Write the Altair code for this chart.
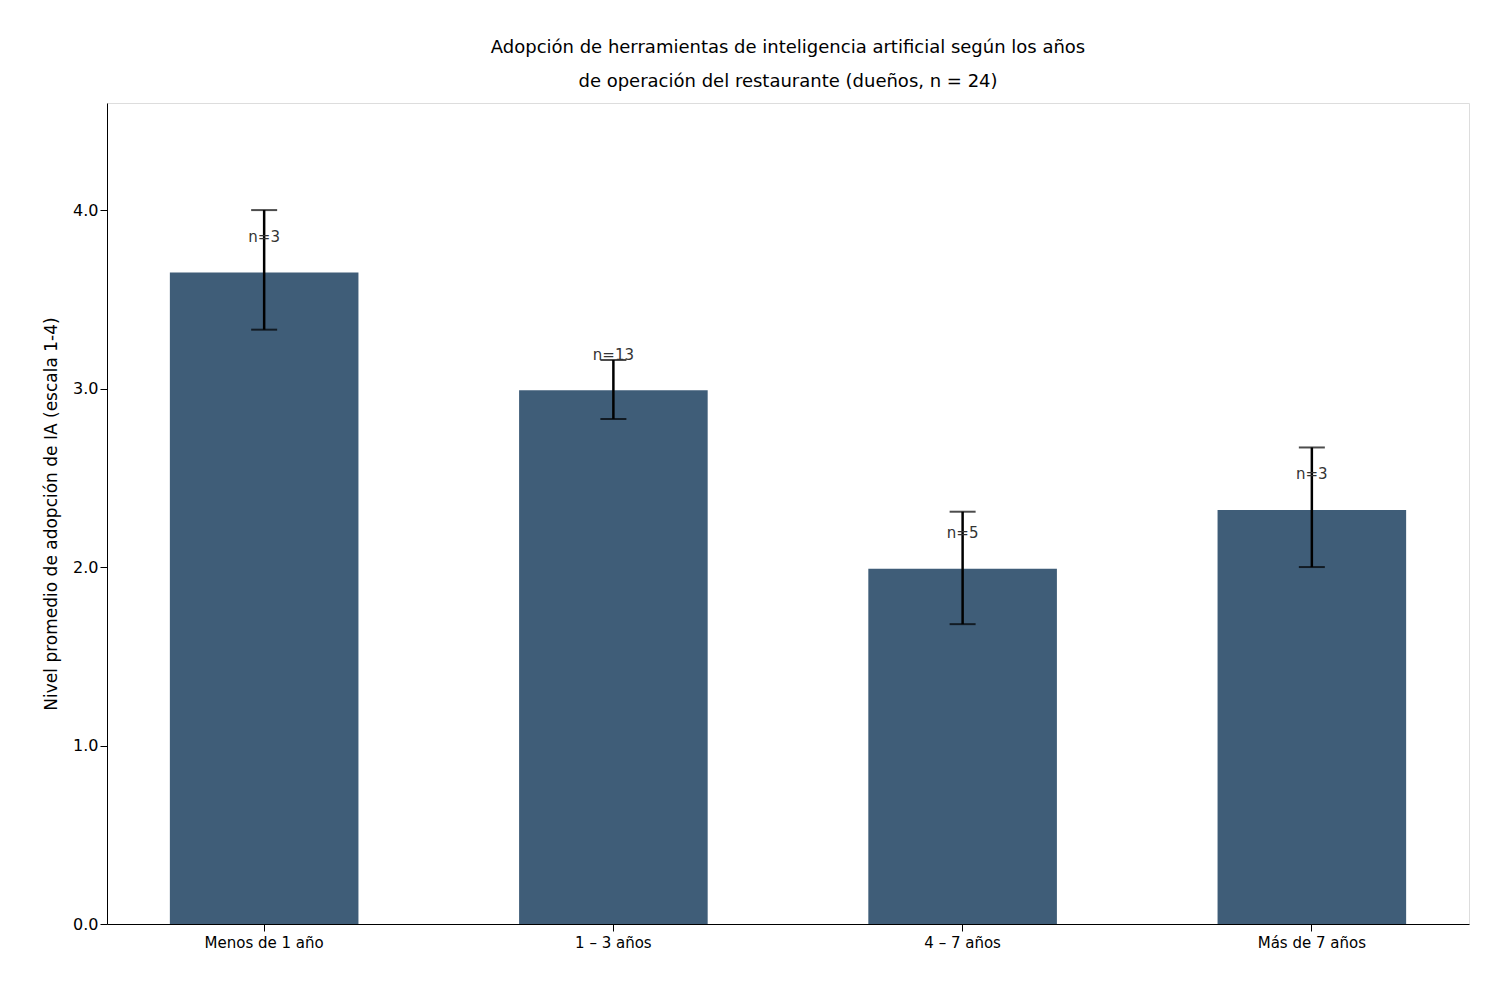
import altair as alt
import pandas as pd

categorias = ["Menos de 1 año", "1 – 3 años", "4 – 7 años", "Más de 7 años"]
medias = [3.65, 2.99, 1.99, 2.32]
err_inf = [3.33, 2.83, 1.68, 2.00]
err_sup = [4.00, 3.16, 2.31, 2.67]
n_vals = [3, 13, 5, 3]

df = pd.DataFrame({
    "cat": categorias, "media": medias, "lo": err_inf, "hi": err_sup,
    "lab": [f"n={n}" for n in n_vals],
    "labpos": [m + 0.2 for m in medias],
})

F = "DejaVu Sans"
x = alt.X("cat:N", sort=categorias, title=None,
          scale=alt.Scale(paddingInner=0.46, paddingOuter=0.18),
          axis=alt.Axis(labelAngle=0, labelFontSize=15, labelFont=F, labelColor="black",
                        tickColor="black", tickSize=7, domainColor="black", labelPadding=4))
yscale = alt.Scale(domain=[0, 4.6], nice=False)

base = alt.Chart(df)
bars = base.mark_bar(color="#3f5d78").encode(
    x=x,
    y=alt.Y("media:Q", scale=yscale, title="Nivel promedio de adopción de IA (escala 1-4)",
            axis=alt.Axis(values=[0, 1, 2, 3, 4], grid=False, labelFontSize=16, labelFont=F,
                          labelColor="black", titleFont=F, titleFontSize=17, titleFontWeight="normal",
                          titleColor="black", tickColor="black", tickSize=7, domainColor="black",
                          titlePadding=12)))
rule = base.mark_rule(color="black", strokeWidth=2.5).encode(x=x, y="lo:Q", y2="hi:Q")
cap_lo = base.mark_tick(color="black", size=26, thickness=2).encode(x=x, y=alt.Y("lo:Q", scale=yscale))
cap_hi = base.mark_tick(color="black", size=26, thickness=2).encode(x=x, y=alt.Y("hi:Q", scale=yscale))
text = base.mark_text(font=F, fontSize=15, color="#333333").encode(
    x=x, y=alt.Y("labpos:Q", scale=yscale), text="lab:N")

chart = alt.layer(bars, rule, cap_lo, cap_hi, text).properties(
    width=1362, height=821,
    title=alt.TitleParams(
        ["Adopción de herramientas de inteligencia artificial según los años",
         "de operación del restaurante (dueños, n = 24)"],
        font=F, fontSize=18, fontWeight="normal", color="black", offset=12, lineHeight=34),
    autosize=alt.AutoSizeParams(type="none"),
    padding={"left": 99, "top": 95, "right": 10, "bottom": 60},
).configure_view(stroke="black", strokeWidth=1.2).configure(background="white")

chart.save("out.html", embed_options={"renderer": "svg", "actions": False})
